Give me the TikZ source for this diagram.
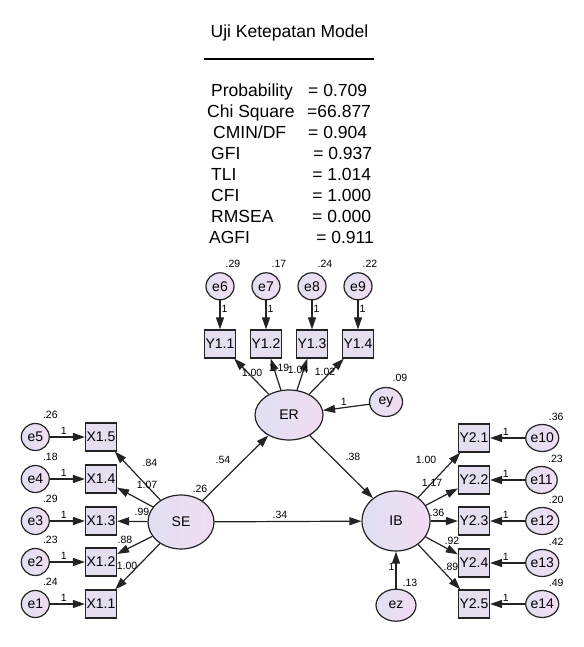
\documentclass[tikz,border=0pt]{standalone}
\usepackage{fontspec}
\setmainfont{Liberation Sans}
\usetikzlibrary{positioning,arrows.meta,shapes.geometric}
\definecolor{latL}{RGB}{224,224,243}
\definecolor{latR}{RGB}{242,220,242}
\definecolor{boxfill}{RGB}{229,221,240}
\definecolor{edge}{RGB}{35,35,35}
\begin{document}
\begin{tikzpicture}[x=1pt, y=1pt, node distance=29pt and 35pt,
    every node/.style={font=\fontsize{14}{16}\selectfont},
    ind/.style={draw=edge, line width=1.2pt, fill=boxfill, minimum width=31pt, minimum height=28pt, inner sep=0pt},
    err/.style={ellipse, draw=edge, line width=1.2pt, left color=latL, right color=latR, minimum width=28pt, minimum height=27pt, inner sep=0pt},
    lat/.style={ellipse, draw=edge, line width=1.2pt, left color=latL, right color=latR, inner sep=0pt},
    lbl/.style={font=\fontsize{10.5}{12}\selectfont, inner sep=1pt},
    arr/.style={-{Triangle[length=12pt,width=8pt]}, line width=1.2pt, draw=edge}]
    \useasboundingbox (0,0) rectangle (583,647);
    % fit statistics
    \node[font=\fontsize{17.5}{21}\selectfont, anchor=base, inner sep=0pt] (title) at (289.5,609) {Uji Ketepatan Model};
    \draw[line width=1.4pt] (204,588) -- (374,588);
    \node[font=\fontsize{17.5}{20.86}\selectfont, anchor=base west, inner sep=0pt] (fitidx) at (211,550) {\begin{tabular}[t]{@{}l@{\hspace{13.5pt}}l@{}}
      Probability & = 0.709\\
      \hspace*{-4pt}Chi Square & \hspace*{-1pt}=66.877\\
      \hspace*{2pt}CMIN/DF & = 0.904\\
      GFI & \hspace*{5pt}= 0.937\\
      TLI & \hspace*{4pt}= 1.014\\
      CFI & \hspace*{4pt}= 1.000\\
      RMSEA & \hspace*{4pt}= 0.000\\
      \hspace*{-2pt}AGFI & \hspace*{8pt}= 0.911
    \end{tabular}};
    % latent variables
    \node[lat, minimum width=66pt, minimum height=54pt] (SE) at (181,125) {SE};
    \node[lat, minimum width=68pt, minimum height=50pt] (ER) at (289,232) {ER};
    \node[lat, minimum width=68pt, minimum height=60pt] (IB) at (396,126) {IB};
    \node[err, minimum width=33pt, minimum height=29pt] (ey) at (386,245) {ey};
    \node[err, minimum width=40pt, minimum height=32pt, below=37pt of IB] (ez) {ez};
    % indicators of SE
    \node[ind] (X15) at (101,210) {X1.5};
    \node[ind] (X14) at (101,168) {X1.4};
    \node[ind] (X13) at (101,126) {X1.3};
    \node[ind] (X12) at (101,85) {X1.2};
    \node[ind] (X11) at (101,43) {X1.1};
    \node[err, left=of X15] (e5) {e5};
    \node[err, left=of X14] (e4) {e4};
    \node[err, left=of X13] (e3) {e3};
    \node[err, left=of X12] (e2) {e2};
    \node[err, left=of X11] (e1) {e1};
    % indicators of ER
    \node[ind] (Y11) at (220,303) {Y1.1};
    \node[ind] (Y12) at (266,303) {Y1.2};
    \node[ind] (Y13) at (312,303) {Y1.3};
    \node[ind] (Y14) at (358,303) {Y1.4};
    \node[err, above=of Y11] (e6) {e6};
    \node[err, above=of Y12] (e7) {e7};
    \node[err, above=of Y13] (e8) {e8};
    \node[err, above=of Y14] (e9) {e9};
    % indicators of IB
    \node[ind] (Y21) at (474,209) {Y2.1};
    \node[ind] (Y22) at (474,167) {Y2.2};
    \node[ind] (Y23) at (474,126) {Y2.3};
    \node[ind] (Y24) at (474,84) {Y2.4};
    \node[ind] (Y25) at (474,43) {Y2.5};
    \node[err, right=of Y21] (e10) {e10};
    \node[err, right=of Y22] (e11) {e11};
    \node[err, right=of Y23] (e12) {e12};
    \node[err, right=of Y24] (e13) {e13};
    \node[err, right=of Y25] (e14) {e14};
    % variances
    \node[lbl] (v5) at ([shift={(15,22)}]e5) {.26};
    \node[lbl] (v4) at ([shift={(15,22)}]e4) {.18};
    \node[lbl] (v3) at ([shift={(15,22)}]e3) {.29};
    \node[lbl] (v2) at ([shift={(15,22)}]e2) {.23};
    \node[lbl] (v1) at ([shift={(15,22)}]e1) {.24};
    \node[lbl] (v6) at ([shift={(13,22)}]e6) {.29};
    \node[lbl] (v7) at ([shift={(13,22)}]e7) {.17};
    \node[lbl] (v8) at ([shift={(13,22)}]e8) {.24};
    \node[lbl] (v9) at ([shift={(12,22)}]e9) {.22};
    \node[lbl] (v10) at ([shift={(14,21)}]e10) {.36};
    \node[lbl] (v11) at ([shift={(14,21)}]e11) {.23};
    \node[lbl] (v12) at ([shift={(14,21)}]e12) {.20};
    \node[lbl] (v13) at ([shift={(14,21)}]e13) {.42};
    \node[lbl] (v14) at ([shift={(14,21)}]e14) {.49};
    \node[lbl] (vy) at ([shift={(14,24)}]ey) {.09};
    \node[lbl] (vz) at ([shift={(14,22)}]ez) {.13};
    \node[lbl] (vSE) at (200,158) {.26};
    % error paths
    \foreach \e/\x in {e5/X15, e4/X14, e3/X13, e2/X12, e1/X11}
      \draw[arr] (\e) -- node[lbl, above=1pt, pos=0.4] {1} (\x);
    \foreach \e/\y in {e6/Y11, e7/Y12, e8/Y13, e9/Y14}
      \draw[arr] (\e) -- node[lbl, right, pos=0.3] {1} (\y);
    \foreach \e/\y in {e10/Y21, e11/Y22, e12/Y23, e13/Y24, e14/Y25}
      \draw[arr] (\e) -- node[lbl, above=1pt, pos=0.55] {1} (\y);
    \draw[arr] (ey) -- node[lbl, above=1pt, pos=0.55] {1} (ER);
    \draw[arr] (ez) -- node[lbl, left, pos=0.6] {1} (IB);
    % loadings
    \foreach \x in {X15, X14, X13, X12, X11}
      \draw[arr] (SE) -- (\x);
    \foreach \y in {Y11, Y12, Y13, Y14}
      \draw[arr] (ER) -- (\y);
    \foreach \y in {Y21, Y22, Y23, Y24, Y25}
      \draw[arr] (IB) -- (\y);
    \draw[arr] (SE) -- (ER);
    \draw[arr] (SE) -- (IB);
    \draw[arr] (ER) -- (IB);
    % estimates
    \node[lbl] (w15) at (150,184) {.84};
    \node[lbl] (w14) at (147,162) {1.07};
    \node[lbl] (w13) at (142,135) {.99};
    \node[lbl] (w12) at (125,107) {.88};
    \node[lbl] (w11) at (127,81) {1.00};
    \node[lbl] (w21) at (252,274) {1.00};
    \node[lbl] (w22) at (279,279) {1.19};
    \node[lbl] (w23) at (298,277) {1.04};
    \node[lbl] (w24) at (325,275) {1.02};
    \node[lbl] (w31) at (426,187) {1.00};
    \node[lbl] (w32) at (432,164) {1.17};
    \node[lbl] (w33) at (437,134) {.36};
    \node[lbl] (w34) at (452,106) {.92};
    \node[lbl] (w35) at (451,80) {.89};
    \node[lbl] (bSE) at (223,187) {.54};
    \node[lbl] (bER) at (353,190) {.38};
    \node[lbl] (bIB) at (280,132) {.34};
  \end{tikzpicture}
\end{document}
